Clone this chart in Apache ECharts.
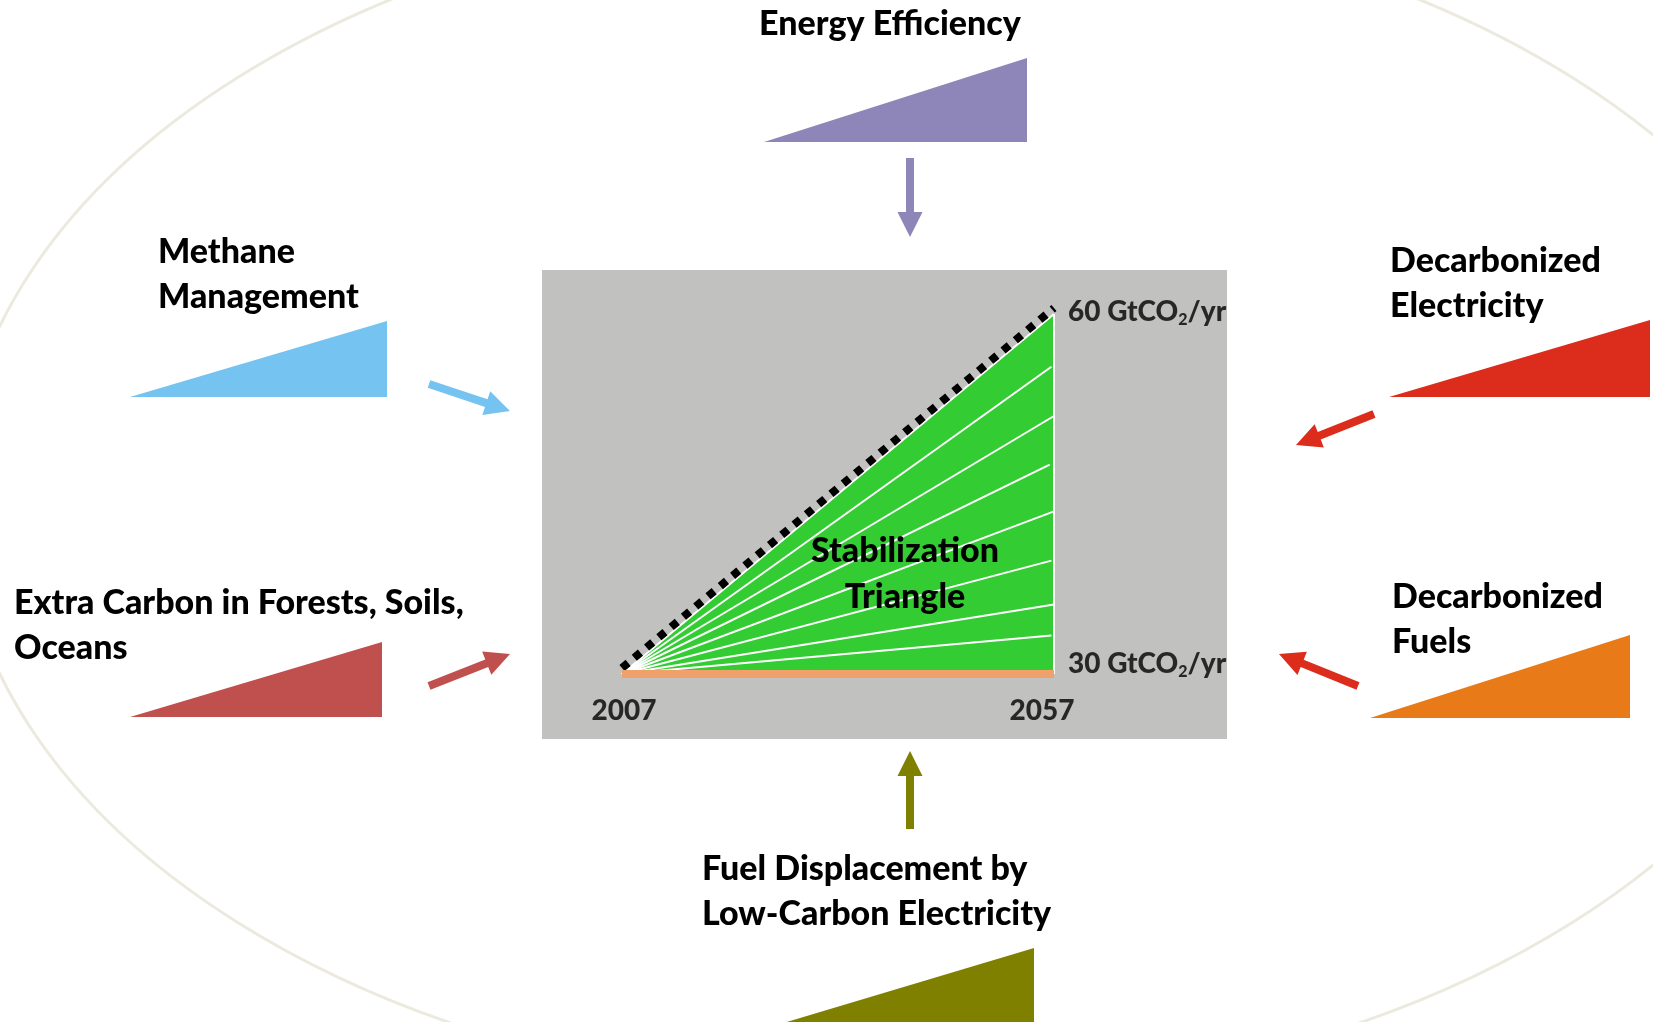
<!DOCTYPE html>
<html>
<head>
<meta charset="utf-8">
<script src="https://cdn.jsdelivr.net/npm/echarts@6/dist/echarts.min.js"></script>
<style>html,body{margin:0;padding:0;background:#fff;}#main{width:1653px;height:1022px;}</style>
</head>
<body>
<div id="main"></div>
<script>
// ---------- data ----------
const years = [2007, 2057];
const emissionsStart = 30;      // GtCO2/yr in 2007
const emissionsBAU = 60;        // GtCO2/yr in 2057 (business as usual)
// end points (year, GtCO2/yr) of the wedge divider lines inside the triangle
const wedgeEndYears  = [2056.7, 2057, 2056.5, 2057, 2056.7, 2057, 2056.7];
const wedgeEndValues = [55.6, 51.5, 47.45, 43.55, 39.45, 35.8, 33.2];
const strategies = [
  'Energy Efficiency',
  'Methane\nManagement',
  'Decarbonized\nElectricity',
  'Extra Carbon in Forests, Soils,\nOceans',
  'Decarbonized\nFuels',
  'Fuel Displacement by\nLow-Carbon Electricity'
];
const triangleTitle = 'Stabilization\nTriangle';
const unitLabel = 'GtCO{s|2}/yr';

// ---------- layout / style ----------
const FONT = "Lato, 'Open Sans', sans-serif";
const W = 900;
const BIG = 34, SMALL = 28;
const L = {
  grid: {left: 622, top: 314, width: 432, height: 360},
  box: {x: 542, y: 270, w: 685, h: 469},
  ellipse: {cx: 905, cy: 500, rx: 946, ry: 596},
  icons: [
    {color: '#8E85B8', arrowColor: '#8E85B8', pts: [[764,142],[1027,142],[1027,58]], text: [759, 24.5], arrow: [910,158,910,237]},
    {color: '#75C3F1', arrowColor: '#75C3F1', pts: [[130,397],[387,397],[387,321]], text: [158, 274.5], arrow: [429,384,510,411]},
    {color: '#DB2C1C', arrowColor: '#DB2C1C', pts: [[1389,397],[1650,397],[1650,320]], text: [1390, 283.5], arrow: [1374,414,1296,445]},
    {color: '#C0504D', arrowColor: '#C0504D', pts: [[130,717],[382,717],[382,642]], text: [14, 626], arrow: [429,686,510,654]},
    {color: '#E87B17', arrowColor: '#DB2C1C', pts: [[1370,718],[1630,718],[1630,635]], text: [1392, 619.5], arrow: [1358,686,1279,654]},
    {color: '#808000', arrowColor: '#808000', pts: [[780,1024],[1034,1024],[1034,948]], text: [702, 891.5], arrow: [910,829,910,751]}
  ]
};

function arrowPoints(x1, y1, x2, y2, sw, hl, hw) {
  const dx = x2 - x1, dy = y2 - y1, len = Math.hypot(dx, dy);
  const ux = dx / len, uy = dy / len, nx = -uy, ny = ux;
  const bx = x2 - ux * hl, by = y2 - uy * hl;
  return [
    [x1 + nx * sw / 2, y1 + ny * sw / 2],
    [bx + nx * sw / 2, by + ny * sw / 2],
    [bx + nx * hw / 2, by + ny * hw / 2],
    [x2, y2],
    [bx - nx * hw / 2, by - ny * hw / 2],
    [bx - nx * sw / 2, by - ny * sw / 2],
    [x1 - nx * sw / 2, y1 - ny * sw / 2]
  ];
}

const graphics = [];
graphics.push({type: 'ellipse', z: -5, silent: true,
  shape: L.ellipse, style: {fill: 'none', stroke: '#ECEADF', lineWidth: 3}});
graphics.push({type: 'rect', z: -4, silent: true,
  shape: {x: L.box.x, y: L.box.y, width: L.box.w, height: L.box.h}, style: {fill: '#C1C1C0'}});
L.icons.forEach((ic, i) => {
  graphics.push({type: 'polygon', z: 1, silent: true, shape: {points: ic.pts}, style: {fill: ic.color}});
  const a = ic.arrow;
  graphics.push({type: 'polygon', z: 1, silent: true,
    shape: {points: arrowPoints(a[0], a[1], a[2], a[3], 8, 25, 25)}, style: {fill: ic.arrowColor}});
  graphics.push({type: 'text', z: 10, silent: true, x: ic.text[0], y: ic.text[1],
    style: {text: strategies[i], fill: '#000', font: W + ' ' + BIG + 'px ' + FONT,
            align: 'left', verticalAlign: 'middle', lineHeight: 45}});
});
graphics.push({type: 'text', z: 10, silent: true, x: 905, y: 574,
  style: {text: triangleTitle, fill: '#000', font: W + ' ' + BIG + 'px ' + FONT,
          align: 'center', verticalAlign: 'middle', lineHeight: 46}});
// crop of labels at the box edge
graphics.push({type: 'rect', z: 100, silent: true,
  shape: {x: L.box.x + L.box.w, y: 285, width: 40, height: 410}, style: {fill: '#fff'}});

const x0 = years[0], x1 = years[1];
const series = [];
// green triangle
series.push({type: 'line', name: 'triangle', data: [[x0, emissionsStart], [x1, emissionsBAU]],
  symbol: 'none', lineStyle: {color: '#fff', width: 2}, areaStyle: {color: '#33CC33', opacity: 1},
  clip: false, z: 2});
// right edge
series.push({type: 'line', data: [[x1, emissionsStart], [x1, emissionsBAU]], symbol: 'none',
  lineStyle: {color: '#fff', width: 2}, clip: false, z: 3});
// wedge dividers
wedgeEndValues.forEach((v, i) => {
  series.push({type: 'line', data: [[x0, emissionsStart], [wedgeEndYears[i], v]], symbol: 'none',
    lineStyle: {color: '#fff', width: 2}, clip: false, z: 3});
});
// dotted BAU path (drawn slightly above the hypotenuse)
series.push({type: 'line', data: [[x0, emissionsStart + 0.5], [x1, emissionsBAU + 0.5]], symbol: 'none',
  lineStyle: {color: '#000', width: 8, type: [8, 8], cap: 'butt'}, clip: false, z: 4});
// flat path
series.push({type: 'line', data: [[x0, emissionsStart], [x1, emissionsStart]], symbol: 'none',
  lineStyle: {color: '#EFA06B', width: 8, cap: 'butt'}, clip: false, z: 5});
// labels
series.push({type: 'scatter', symbolSize: 0, clip: false, z: 6,
  data: [
    {value: [x1, emissionsBAU], label: {formatter: emissionsBAU + ' ' + unitLabel, offset: [0, -2]}},
    {value: [x1, emissionsStart], label: {formatter: emissionsStart + ' ' + unitLabel, offset: [0, -10]}}
  ],
  label: {show: true, position: 'right', distance: 14, color: '#000', fontFamily: FONT, fontWeight: W,
    fontSize: SMALL, lineHeight: 32,
    rich: {s: {fontFamily: FONT, fontWeight: W, fontSize: 16, lineHeight: 16, padding: [16, 0, 0, 0], color: '#000'}}}
});
series.push({type: 'scatter', symbolSize: 0, clip: false, z: 6,
  data: [
    {value: [x0, emissionsStart], label: {formatter: String(x0), offset: [2, 37]}},
    {value: [x1, emissionsStart], label: {formatter: String(x1), offset: [-12, 37]}}
  ],
  label: {show: true, position: 'inside', color: '#000', fontFamily: FONT, fontWeight: W, fontSize: 28}
});

const chart = echarts.init(document.getElementById('main'), null, {renderer: 'canvas'});
chart.setOption({
  animation: false,
  backgroundColor: '#fff',
  grid: Object.assign({containLabel: false}, L.grid),
  xAxis: {type: 'value', min: x0, max: x1, show: false},
  yAxis: {type: 'value', min: emissionsStart, max: emissionsBAU, show: false},
  graphic: {elements: graphics},
  series: series
});
</script>
</body>
</html>
